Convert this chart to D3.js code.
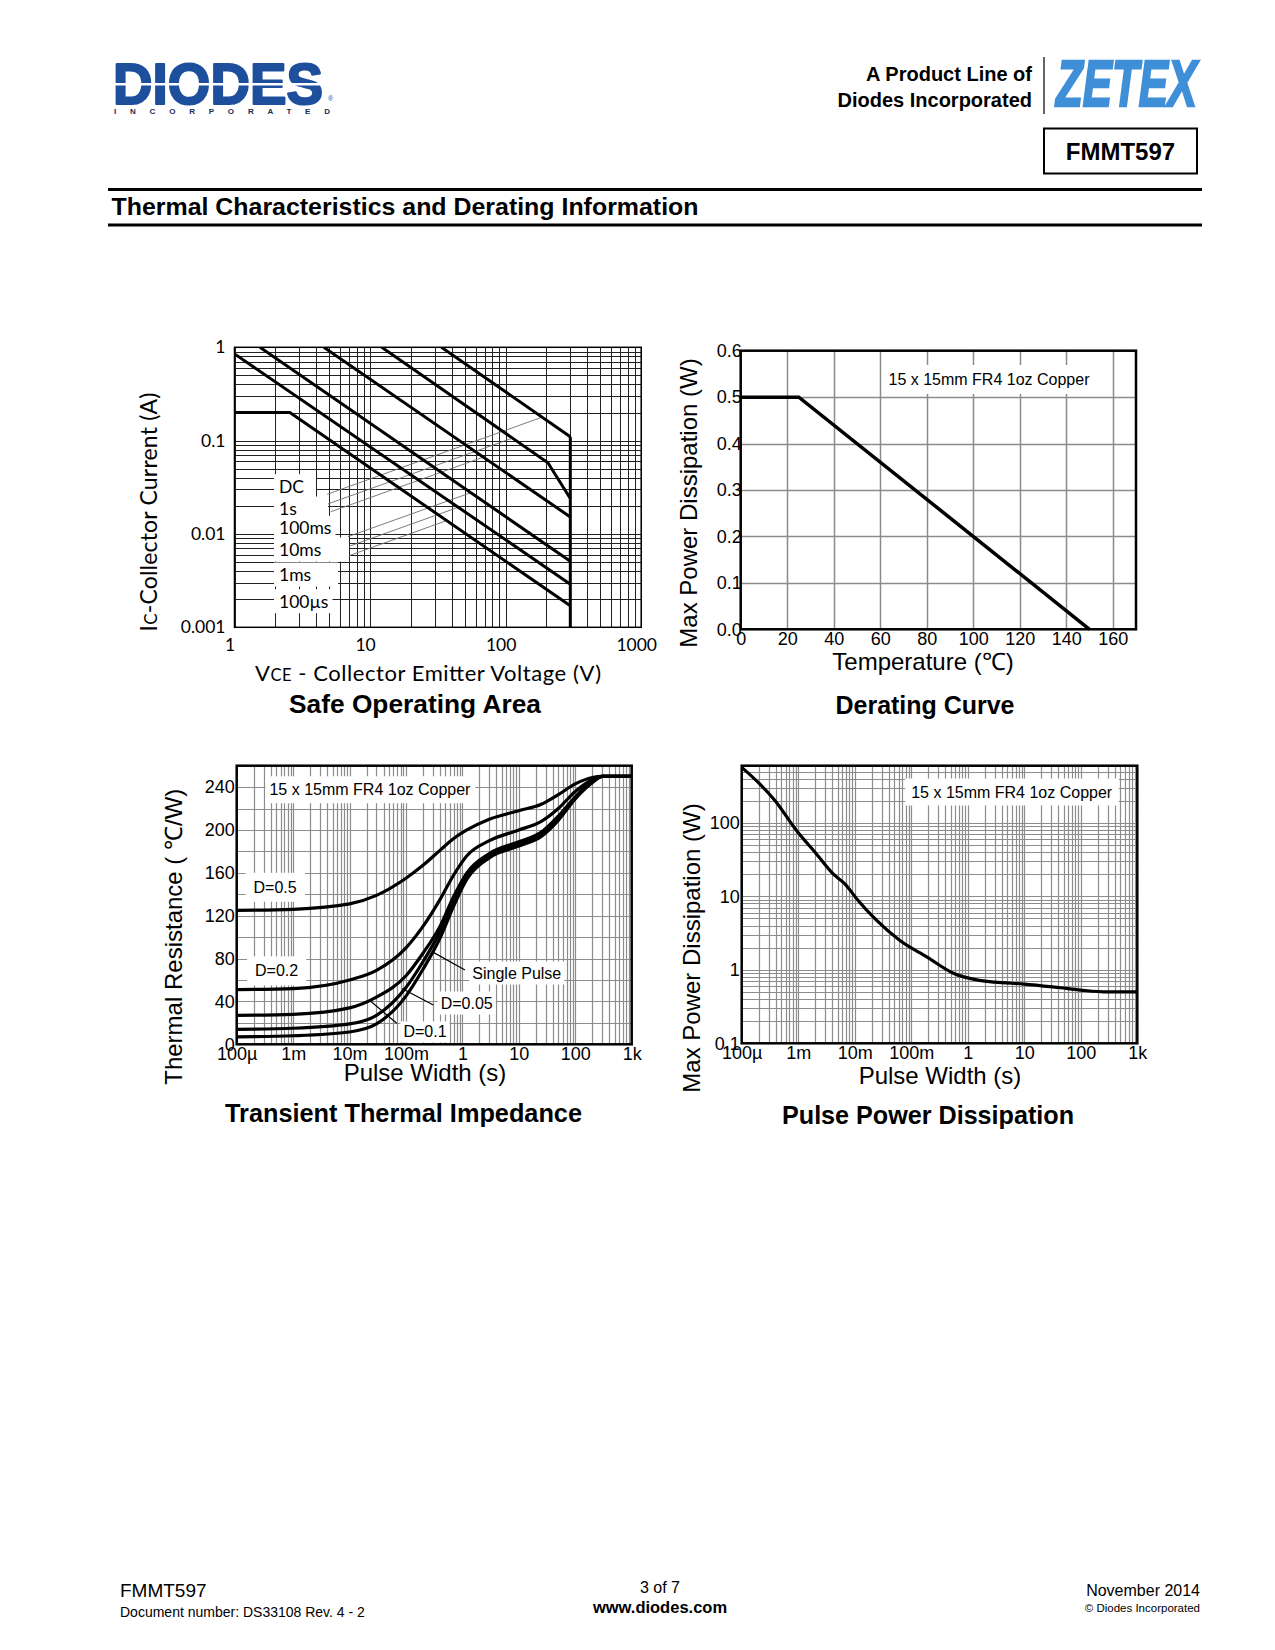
<!DOCTYPE html>
<html><head><meta charset="utf-8">
<script src="https://cdn.jsdelivr.net/npm/d3@7"></script>
<style>body{margin:0;background:#fff}</style>
</head><body><div id="page"></div>
<script>
// ---------------- DATA ----------------
// Safe Operating Area (VCE [V], IC [A])
const soaLabels = ["DC", "1s", "100ms", "10ms", "1ms", "100\u00B5s"];
const soaLabelCurrent = [0.0321, 0.0185, 0.0115, 0.00672, 0.00363, 0.00188];
const soaDC = [[1, 0.2], [2.56, 0.2], [300, 0.0017]];
const soa1s = [[1, 0.85], [300, 0.0029]];
const soa100ms = [[1.54, 1], [300, 0.0051]];
const soa10ms = [[4.56, 1], [300, 0.0152]];
const soa1ms = [[12.2, 1], [205, 0.058], [300, 0.024]];
const soa100us = [[33.6, 1], [300, 0.11]];
const soaLimit = [[300, 0.001], [300, 0.11]];
const soaLeaders = [
  [[4.83, 0.0266], [185, 0.178]],
  [[4.89, 0.0210], [113.6, 0.107]],
  [[5.13, 0.0173], [68.5, 0.0666]],
  [[6.87, 0.00936], [55.5, 0.0277]],
  [[6.87, 0.0073], [44.2, 0.0192]],
  [[6.87, 0.0058], [36.7, 0.0139]]
];
const soaXTicks = [1, 10, 100, 1000];
const soaYTicks = [1, 0.1, 0.01, 0.001];

// Derating curve
const deratingTemp = [0, 25, 150];
const deratingPower = [0.5, 0.5, 0];
const deratingXTicks = [0, 20, 40, 60, 80, 100, 120, 140, 160];
const deratingYTicks = [0, 0.1, 0.2, 0.3, 0.4, 0.5, 0.6];

// Transient thermal impedance (pulse width [s], Rth [C/W])
const transientTime = [1e-4, 1e-3, 1e-2, 3e-2, 0.1, 0.2, 0.4, 0.7, 1.2, 3, 10, 25, 50, 100, 200, 300, 1000];
const transientD05 = [125, 126, 131, 139, 155, 167, 181, 192, 200, 210, 218, 224, 233, 243, 249, 250, 250];
const transientD02 = [51, 52, 60, 69, 90, 110, 135, 158, 176, 190, 200, 208, 220, 236, 247, 250, 250];
const transientD01 = [27, 28, 34, 44, 64, 85, 110, 138, 160, 178, 189, 198, 213, 231, 246, 250, 250];
const transientD005 = [14, 15, 19, 27, 53, 77, 105, 134, 157, 176, 187, 196, 211, 230, 245, 250, 250];
const transientSingle = [7, 8, 11.5, 19, 45, 70, 99, 129, 154, 174, 185, 194, 209, 229, 244, 250, 250];
const timeTicks = [1e-4, 1e-3, 1e-2, 1e-1, 1, 10, 100, 1000];
const timeTickLabels = ["100\u00B5", "1m", "10m", "100m", "1", "10", "100", "1k"];
const transientYTicks = [0, 40, 80, 120, 160, 200, 240];

// Pulse power dissipation (pulse width [s], power [W])
const pulseWidth = [1e-4, 2.1e-4, 3.9e-4, 9.4e-4, 2.1e-3, 4.2e-3, 6.7e-3, 1.08e-2, 2.45e-2, 0.063, 0.188, 0.556, 1.44, 3, 10, 43, 100, 300, 1000];
const pulsePower = [570, 337, 200, 78, 37.8, 20, 14.8, 9.3, 4.7, 2.5, 1.5, 0.9, 0.73, 0.68, 0.64, 0.57, 0.53, 0.5, 0.5];
const pulseYTicks = [0.1, 1, 10, 100];

// ---------------- SETUP ----------------
const W = 1275, H = 1650;
const HEL = '"Liberation Sans", Arial, Helvetica, sans-serif';
const LATO = 'Lato, "Open Sans", sans-serif';
const svg = d3.select("#page").append("svg").attr("width", W).attr("height", H);
svg.append("rect").attr("width", W).attr("height", H).attr("fill", "#fff");
const defs = svg.append("defs");

function logTicks(domain) {
  const a = Math.min(domain[0], domain[1]), b = Math.max(domain[0], domain[1]);
  const out = [];
  for (let e = Math.floor(Math.log10(a)); e <= Math.ceil(Math.log10(b)); e++)
    for (let k = 1; k <= 9; k++) { const v = k * Math.pow(10, e); if (v >= a * 0.999 && v <= b * 1.001) out.push(v); }
  return out;
}
function clip(id, x, y, w, h) {
  defs.append("clipPath").attr("id", id).append("rect").attr("x", x).attr("y", y).attr("width", w).attr("height", h);
  return "url(#" + id + ")";
}
function vGrid(g, xs, scale, y0, y1, color, sw) {
  g.append("g").selectAll("line").data(xs).join("line")
    .attr("x1", d => Math.round(scale(d)) + 0.5).attr("x2", d => Math.round(scale(d)) + 0.5)
    .attr("y1", y0).attr("y2", y1).attr("stroke", color).attr("stroke-width", sw);
}
function hGrid(g, ys, scale, x0, x1, color, sw) {
  g.append("g").selectAll("line").data(ys).join("line")
    .attr("y1", d => Math.round(scale(d)) + 0.5).attr("y2", d => Math.round(scale(d)) + 0.5)
    .attr("x1", x0).attr("x2", x1).attr("stroke", color).attr("stroke-width", sw);
}
function txt(g, x, y, s, opt) {
  const t = g.append("text").attr("x", x).attr("y", y).text(s)
    .attr("font-family", opt.family || HEL).attr("font-size", opt.size || 16)
    .attr("text-anchor", opt.anchor || "start").attr("fill", opt.fill || "#000");
  if (opt.weight) t.attr("font-weight", opt.weight);
  if (opt.style) t.attr("font-style", opt.style);
  if (opt.len) t.attr("textLength", opt.len).attr("lengthAdjust", opt.adj || "spacingAndGlyphs");
  return t;
}
function boxedLabel(g, x, y, s, size, anchor, padX, padY) {
  const bg = g.append("rect").attr("fill", "#fff");
  const t = txt(g, x, y, s, { size: size, anchor: anchor || "middle" });
  const b = t.node().getBBox();
  bg.attr("x", b.x - padX).attr("y", b.y - padY).attr("width", b.width + 2 * padX).attr("height", b.height + 2 * padY);
  return t;
}

// ---------------- HEADER ----------------
const hdr = svg.append("g");
txt(hdr, 113, 104, "DIODES", { size: 58, weight: 900, fill: "#1d4f9c", len: 210 })
  .attr("stroke", "#1d4f9c").attr("stroke-width", 2.2).attr("stroke-linejoin", "round");
hdr.append("rect").attr("x", 110).attr("y", 83).attr("width", 222).attr("height", 2.5).attr("fill", "#fff");
txt(hdr, 328, 101, "\u00AE", { size: 7, fill: "#1d4f9c" });
txt(hdr, 114, 114, "INCORPORATED", { size: 8, weight: "bold", fill: "#1b2a55", len: 216, adj: "spacing" });
txt(hdr, 1032, 81, "A Product Line of", { size: 20, weight: "bold", anchor: "end" });
txt(hdr, 1032, 107, "Diodes Incorporated", { size: 20, weight: "bold", anchor: "end" });
hdr.append("line").attr("x1", 1044).attr("x2", 1044).attr("y1", 57).attr("y2", 114).attr("stroke", "#333").attr("stroke-width", 1.5);
txt(hdr, 1056, 106, "ZETEX", { size: 64, weight: "bold", style: "italic", fill: "#3f8fd8", len: 141 })
  .attr("stroke", "#3f8fd8").attr("stroke-width", 2.4).attr("stroke-linejoin", "miter");
hdr.append("rect").attr("x", 1044).attr("y", 128.5).attr("width", 153).attr("height", 45).attr("fill", "none").attr("stroke", "#000").attr("stroke-width", 2);
txt(hdr, 1120.5, 159.5, "FMMT597", { size: 24, weight: "bold", anchor: "middle" });
hdr.append("line").attr("x1", 108).attr("x2", 1202).attr("y1", 189.5).attr("y2", 189.5).attr("stroke", "#000").attr("stroke-width", 3);
txt(hdr, 111.5, 215, "Thermal Characteristics and Derating Information", { size: 24, weight: "bold", len: 587 });
hdr.append("line").attr("x1", 108).attr("x2", 1202).attr("y1", 225).attr("y2", 225).attr("stroke", "#000").attr("stroke-width", 3);

// ---------------- SAFE OPERATING AREA ----------------
{
  const g = svg.append("g");
  const L = 234.5, R = 641.2, T = 347.3, B = 627.3;
  const sx = d3.scaleLog().domain([1, 1000]).range([L, R]);
  const sy = d3.scaleLog().domain([0.001, 1]).range([B, T]);
  vGrid(g, logTicks(sx.domain()), sx, T, B, "#222", 1);
  hGrid(g, logTicks(sy.domain()), sy, L, R, "#222", 1);
  const line = d3.line().x(d => sx(d[0])).y(d => sy(d[1]));
  // leaders
  g.append("g").selectAll("path").data(soaLeaders).join("path").attr("d", line)
    .attr("fill", "none").attr("stroke", "#6e6e6e").attr("stroke-width", 0.9);
  // label boxes
  const boxRight = [316, 328, 329, 349, 338, 330];
  const lg = g.append("g");
  soaLabels.forEach((s, i) => {
    const bg = lg.append("rect").attr("fill", "#fff");
    const t = txt(lg, 279, sy(soaLabelCurrent[i]) + 6, s, { size: 17.5, family: LATO });
    const b = t.node().getBBox();
    const r = Math.max(boxRight[i], b.x + b.width + 4);
    bg.attr("x", 274).attr("y", b.y - 1.5).attr("width", r - 274).attr("height", b.height + 3);
  });
  const cp = clip("clipSoa", L, T, R - L, B - T);
  g.append("g").attr("clip-path", cp).selectAll("path")
    .data([soaDC, soa1s, soa100ms, soa10ms, soa1ms, soa100us, soaLimit]).join("path")
    .attr("d", line).attr("fill", "none").attr("stroke", "#000").attr("stroke-width", 3).attr("stroke-linejoin", "miter");
  g.append("rect").attr("x", L).attr("y", T).attr("width", R - L).attr("height", B - T)
    .attr("fill", "none").attr("stroke", "#000").attr("stroke-width", 1.5);
  const ax = g.append("g").attr("transform", `translate(0,${B})`)
    .call(d3.axisBottom(sx).tickValues(soaXTicks).tickFormat(d3.format("d")).tickSize(0).tickPadding(11));
  ax.select(".domain").remove();
  ax.attr("font-family", LATO).attr("font-size", 17.5);
  ax.selectAll("text").attr("dx", -5);
  const ay = g.append("g").attr("transform", `translate(${L},0)`)
    .call(d3.axisLeft(sy).tickValues(soaYTicks).tickFormat(d => String(d)).tickSize(0).tickPadding(9));
  ay.select(".domain").remove();
  ay.attr("font-family", LATO).attr("font-size", 17.5);
  const xt = txt(g, 428, 681, "V", { size: 22, family: LATO, anchor: "middle", len: 346, adj: "spacing" });
  xt.append("tspan").attr("font-size", 16.5).text("CE");
  xt.append("tspan").text(" - Collector Emitter Voltage (V)");
  const yt = txt(g, 0, 0, "I", { size: 23, family: LATO, anchor: "middle", len: 239, adj: "spacing" })
    .attr("transform", "translate(157,512) rotate(-90)");
  yt.append("tspan").attr("font-size", 17).text("C");
  yt.append("tspan").text("-Collector Current (A)");
  txt(g, 415, 713, "Safe Operating Area", { size: 26, weight: "bold", anchor: "middle", len: 252 });
}

// ---------------- DERATING CURVE ----------------
{
  const g = svg.append("g");
  const L = 740.7, R = 1136, T = 350.7, B = 629.3;
  const x = d3.scaleLinear().domain([0, 170]).range([L, R]);
  const y = d3.scaleLinear().domain([0, 0.6]).range([B, T]);
  vGrid(g, deratingXTicks.slice(1), x, T, B, "#8c8c8c", 1.5);
  hGrid(g, deratingYTicks.slice(1, -1), y, L, R, "#8c8c8c", 1.5);
  boxedLabel(g, 989, 385, "15 x 15mm FR4 1oz Copper", 16, "middle", 5, 6);
  const pts = deratingTemp.map((t, i) => [t, deratingPower[i]]);
  g.append("path").attr("d", d3.line().x(d => x(d[0])).y(d => y(d[1]))(pts))
    .attr("fill", "none").attr("stroke", "#000").attr("stroke-width", 3.5);
  g.append("rect").attr("x", L).attr("y", T).attr("width", R - L).attr("height", B - T)
    .attr("fill", "none").attr("stroke", "#000").attr("stroke-width", 2.5);
  const ax = g.append("g").attr("transform", `translate(0,${B})`)
    .call(d3.axisBottom(x).tickValues(deratingXTicks).tickFormat(d3.format("d")).tickSize(0).tickPadding(3));
  ax.select(".domain").remove(); ax.attr("font-family", HEL).attr("font-size", 18);
  const ay = g.append("g").attr("transform", `translate(${L + 1},0)`)
    .call(d3.axisLeft(y).tickValues(deratingYTicks).tickFormat(d3.format(".1f")).tickSize(0).tickPadding(0));
  ay.select(".domain").remove(); ay.attr("font-family", HEL).attr("font-size", 18);
  txt(g, 923, 670, "Temperature (\u2103)", { size: 24, anchor: "middle" });
  txt(g, 0, 0, "Max Power Dissipation (W)", { size: 24, anchor: "middle" }).attr("transform", "translate(697,503) rotate(-90)");
  txt(g, 925, 714, "Derating Curve", { size: 25, weight: "bold", anchor: "middle", len: 179 });
}

// ---------------- TRANSIENT THERMAL IMPEDANCE ----------------
{
  const g = svg.append("g");
  const L = 236.7, R = 631.7, T = 765.7, B = 1044.3;
  const x = d3.scaleLog().domain([1e-4, 1e3]).range([L, R]);
  const y = d3.scaleLinear().domain([0, 260]).range([B, T]);
  vGrid(g, logTicks(x.domain()).slice(1, -1), x, T, B, "#8c8c8c", 1.2);
  hGrid(g, d3.range(20, 260, 20), y, L, R, "#8c8c8c", 1.2);
  const line = d3.line().x(d => x(d[0])).y(d => y(d[1])).curve(d3.curveMonotoneX);
  const series = [transientD05, transientD02, transientD01, transientD005, transientSingle]
    .map(v => transientTime.map((t, i) => [t, v[i]]));
  // annotations (data coordinates)
  boxedLabel(g, x(0.023), y(238) + 6, "15 x 15mm FR4 1oz Copper", 16, "middle", 4, 5);
  boxedLabel(g, x(4.8e-4), y(147) + 6, "D=0.5", 16, "middle", 8, 6);
  boxedLabel(g, x(5.1e-4), y(69) + 6, "D=0.2", 16, "middle", 8, 6);
  const leaders = [[[1.11, 69.4], [0.3, 86]], [[0.305, 36.7], [0.085, 52]], [[0.0686, 19.6], [0.024, 40]]];
  g.append("g").selectAll("path").data(leaders).join("path")
    .attr("d", d3.line().x(d => x(d[0])).y(d => y(d[1]))).attr("stroke", "#000").attr("stroke-width", 1.2).attr("fill", "none");
  boxedLabel(g, x(9.2), y(67) + 6, "Single Pulse", 16, "middle", 3, 3);
  boxedLabel(g, x(1.19), y(39) + 6, "D=0.05", 16, "middle", 3, 3);
  boxedLabel(g, x(0.217), y(12) + 6, "D=0.1", 16, "middle", 3, 2);
  const cp = clip("clipTr", L, T, R - L, B - T);
  g.append("g").attr("clip-path", cp).selectAll("path").data(series).join("path")
    .attr("d", line).attr("fill", "none").attr("stroke", "#000").attr("stroke-width", 3.2);
  g.append("rect").attr("x", L).attr("y", T).attr("width", R - L).attr("height", B - T)
    .attr("fill", "none").attr("stroke", "#000").attr("stroke-width", 2.5);
  const ax = g.append("g").attr("transform", `translate(0,${B})`)
    .call(d3.axisBottom(x).tickValues(timeTicks).tickFormat((d, i) => timeTickLabels[i]).tickSize(0).tickPadding(2.5));
  ax.select(".domain").remove(); ax.attr("font-family", HEL).attr("font-size", 18);
  const ay = g.append("g").attr("transform", `translate(${L},0)`)
    .call(d3.axisLeft(y).tickValues(transientYTicks).tickFormat(d3.format("d")).tickSize(0).tickPadding(2));
  ay.select(".domain").remove(); ay.attr("font-family", HEL).attr("font-size", 18);
  txt(g, 425, 1081, "Pulse Width (s)", { size: 24, anchor: "middle" });
  txt(g, 0, 0, "Thermal Resistance ( \u2103/W)", { size: 24, anchor: "middle" }).attr("transform", "translate(182,936.7) rotate(-90)");
  txt(g, 403.5, 1122, "Transient Thermal Impedance", { size: 25, weight: "bold", anchor: "middle", len: 357 });
}

// ---------------- PULSE POWER DISSIPATION ----------------
{
  const g = svg.append("g");
  const L = 741.7, R = 1137.3, T = 765.7, B = 1043.3;
  const x = d3.scaleLog().domain([1e-4, 1e3]).range([L, R]);
  const y = d3.scaleLog().domain([0.1, 600]).range([B, T]);
  vGrid(g, logTicks(x.domain()).slice(1, -1), x, T, B, "#8c8c8c", 1.2);
  hGrid(g, logTicks(y.domain()).slice(1), y, L, R, "#8c8c8c", 1.2);
  boxedLabel(g, 1011.7, 797.5, "15 x 15mm FR4 1oz Copper", 16, "middle", 6, 5);
  const pts = pulseWidth.map((t, i) => [t, pulsePower[i]]);
  const cp = clip("clipPp", L, T, R - L, B - T);
  g.append("path").attr("clip-path", cp)
    .attr("d", d3.line().x(d => x(d[0])).y(d => y(d[1])).curve(d3.curveMonotoneX)(pts))
    .attr("fill", "none").attr("stroke", "#000").attr("stroke-width", 3.2);
  g.append("rect").attr("x", L).attr("y", T).attr("width", R - L).attr("height", B - T)
    .attr("fill", "none").attr("stroke", "#000").attr("stroke-width", 2.5);
  const ax = g.append("g").attr("transform", `translate(0,${B})`)
    .call(d3.axisBottom(x).tickValues(timeTicks).tickFormat((d, i) => timeTickLabels[i]).tickSize(0).tickPadding(2.5));
  ax.select(".domain").remove(); ax.attr("font-family", HEL).attr("font-size", 18);
  const ay = g.append("g").attr("transform", `translate(${L},0)`)
    .call(d3.axisLeft(y).tickValues(pulseYTicks).tickFormat(d => String(d)).tickSize(0).tickPadding(2));
  ay.select(".domain").remove(); ay.attr("font-family", HEL).attr("font-size", 18);
  txt(g, 940, 1083.5, "Pulse Width (s)", { size: 24, anchor: "middle" });
  txt(g, 0, 0, "Max Power Dissipation (W)", { size: 24, anchor: "middle" }).attr("transform", "translate(700,948) rotate(-90)");
  txt(g, 928, 1124, "Pulse Power Dissipation", { size: 25, weight: "bold", anchor: "middle", len: 292 });
}

// ---------------- FOOTER ----------------
const ft = svg.append("g");
txt(ft, 120, 1597, "FMMT597", { size: 19 });
txt(ft, 120, 1617, "Document number: DS33108 Rev. 4 - 2", { size: 14 });
txt(ft, 660, 1593, "3 of 7", { size: 16, anchor: "middle" });
txt(ft, 660, 1613, "www.diodes.com", { size: 16.5, weight: "bold", anchor: "middle" });
txt(ft, 1200, 1596, "November 2014", { size: 16, anchor: "end" });
txt(ft, 1200, 1612, "\u00A9 Diodes Incorporated", { size: 11.5, anchor: "end" });
</script>
</body></html>
